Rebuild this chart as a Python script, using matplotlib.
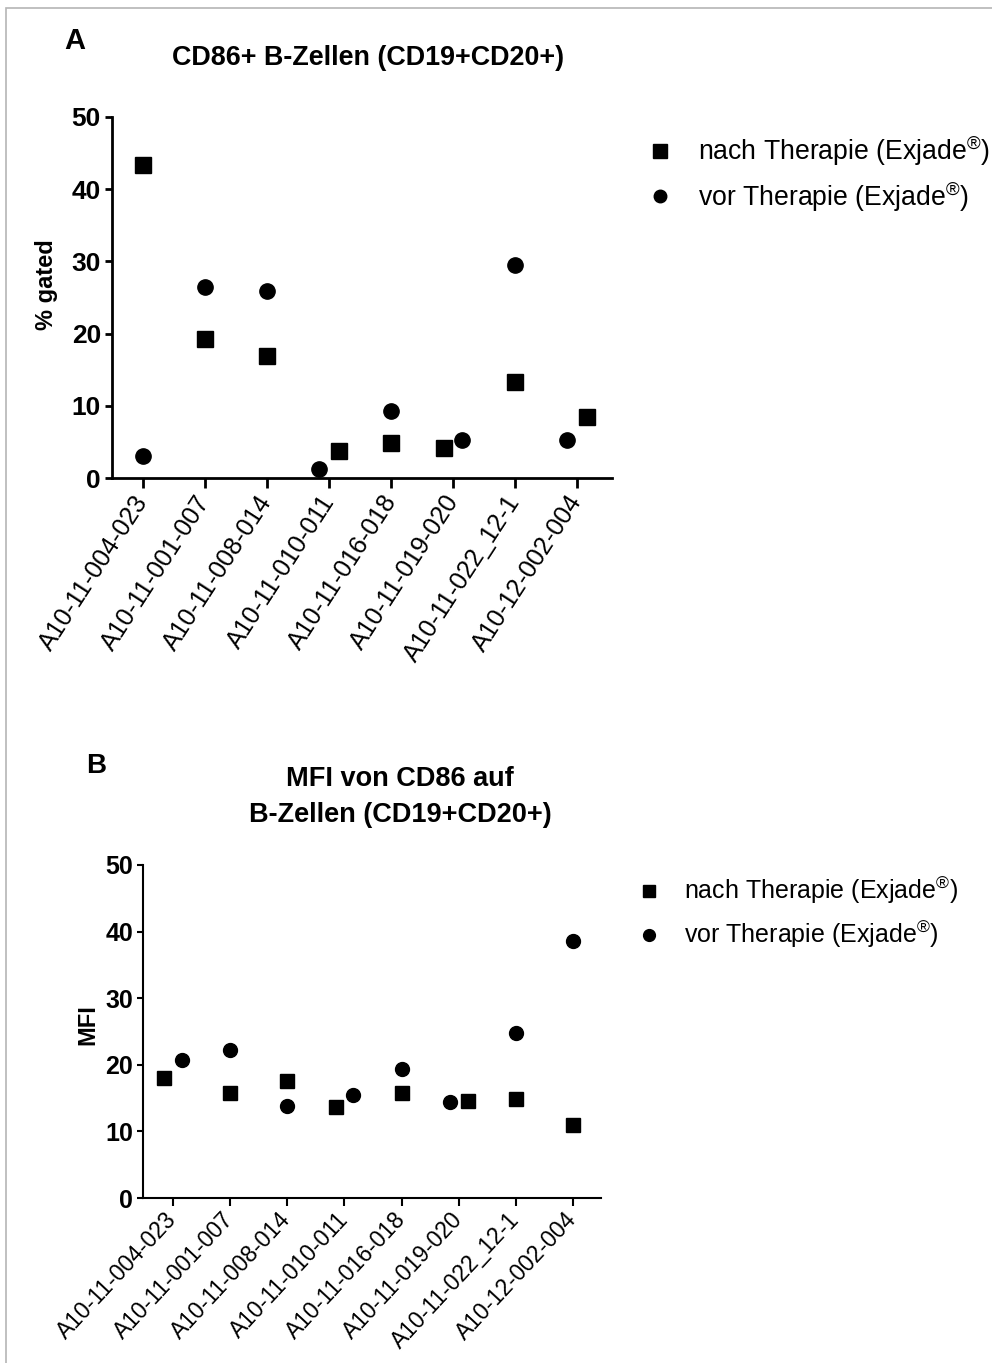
import numpy as np
import matplotlib
matplotlib.use("Agg")
import matplotlib.pyplot as plt
from matplotlib.lines import Line2D
from matplotlib.patches import Rectangle

plt.rcParams['font.family'] = ['Liberation Sans', 'DejaVu Sans']
plt.rcParams['mathtext.fontset'] = 'custom'
plt.rcParams['mathtext.rm'] = 'Liberation Sans'

patients = ["A10-11-004-023", "A10-11-001-007", "A10-11-008-014", "A10-11-010-011",
            "A10-11-016-018", "A10-11-019-020", "A10-11-022_12-1", "A10-12-002-004"]

# Panel A: CD86+ B cells, % gated
gated_nach = [43.4, 19.3, 16.9, 3.8, 4.8, 4.1, 13.3, 8.4]
gated_vor = [3.0, 26.4, 25.9, 1.3, 9.3, 5.3, 29.5, 5.3]

# Panel B: MFI of CD86 on B cells
mfi_nach = [18.0, 15.8, 17.6, 13.6, 15.7, 14.6, 14.9, 11.0]
mfi_vor = [20.7, 22.2, 13.8, 15.4, 19.4, 14.4, 24.8, 38.6]

y_ticks = [0, 10, 20, 30, 40, 50]
series_labels = ["nach Therapie (Exjade$^{®}$)", "vor Therapie (Exjade$^{®}$)"]

# horizontal dodge so that coinciding symbols stay visible
dodge_a_nach = [0, 0, 0, 0.16, 0, -0.15, 0, 0.16]
dodge_a_vor = [0, 0, 0, -0.16, 0, 0.15, 0, -0.16]
dodge_b_nach = [-0.16, 0, 0, -0.14, 0, 0.16, 0, 0]
dodge_b_vor = [0.16, 0, 0, 0.15, 0, -0.16, 0, 0]

W, H = 992, 1363
fig = plt.figure(figsize=(W / 100, H / 100), dpi=100)


def px(x, y):
    return x / W, 1 - y / H


def draw_panel(ax, nach, vor, d_nach, d_vor, xlim, ms, lw, ytick_fs, xtick_fs, xrot,
               xt_len, yt_len, xpad):
    x = np.arange(len(patients))
    ax.plot(x + np.array(d_nach), nach, ls='none', marker='s', ms=ms, color='black',
            clip_on=False, zorder=3)
    ax.plot(x + np.array(d_vor), vor, ls='none', marker='o', ms=ms, color='black',
            clip_on=False, zorder=3)
    ax.set_xlim(*xlim)
    ax.set_ylim(0, 50)
    ax.set_yticks(y_ticks)
    ax.set_xticks(x)
    ax.set_xticklabels(patients, rotation=xrot, ha='right', va='center',
                       rotation_mode='anchor', fontsize=xtick_fs)
    for lab in ax.get_yticklabels():
        lab.set_fontweight('bold')
        lab.set_fontsize(ytick_fs)
    for s in ('top', 'right'):
        ax.spines[s].set_visible(False)
    for s in ('left', 'bottom'):
        ax.spines[s].set_linewidth(lw)
    ax.tick_params(axis='x', length=xt_len, width=lw, pad=xpad)
    ax.tick_params(axis='y', length=yt_len, width=lw, pad=3)
    ax.set_facecolor('none')


# ---- Panel A ----
l, t = px(112, 117)
r, b = px(612, 478)
axA = fig.add_axes([l, b, r - l, t - b])
draw_panel(axA, gated_nach, gated_vor, dodge_a_nach, dodge_a_vor, (-0.5, 7.56),
           ms=11, lw=2.0, ytick_fs=19, xtick_fs=18, xrot=57, xt_len=7, yt_len=5, xpad=7)

fig.text(*px(75, 41), "A", fontsize=21, fontweight='bold', ha='center', va='center')
fig.text(*px(368, 58), "CD86+ B-Zellen (CD19+CD20+)", fontsize=19.4, fontweight='bold',
         ha='center', va='center')
fig.text(*px(47, 285), "% gated", fontsize=17, fontweight='bold', rotation=90,
         ha='center', va='center')

handles = [Line2D([], [], ls='none', marker='s', ms=10, color='black'),
           Line2D([], [], ls='none', marker='o', ms=9, color='black')]
fig.legend(handles, series_labels, loc='upper left', bbox_to_anchor=px(647, 134),
           frameon=False, fontsize=19.2, handlelength=1.0, handletextpad=0.9,
           labelspacing=0.4, borderpad=0, borderaxespad=0)

# ---- Panel B ----
l, t = px(143, 865)
r, b = px(601, 1198)
axB = fig.add_axes([l, b, r - l, t - b])
draw_panel(axB, mfi_nach, mfi_vor, dodge_b_nach, dodge_b_vor, (-0.525, 7.49),
           ms=10, lw=1.5, ytick_fs=18, xtick_fs=16.5, xrot=47, xt_len=6, yt_len=4, xpad=7)

fig.text(*px(96, 766), "B", fontsize=20, fontweight='bold', ha='center', va='center')
fig.text(*px(400, 797), "MFI von CD86 auf\nB-Zellen (CD19+CD20+)", fontsize=19.5,
         fontweight='bold', ha='center', va='center', linespacing=1.45)
fig.text(*px(88, 1025), "MFI", fontsize=17, fontweight='bold', rotation=90,
         ha='center', va='center')

handles_b = [Line2D([], [], ls='none', marker='s', ms=8.5, color='black'),
             Line2D([], [], ls='none', marker='o', ms=8.5, color='black')]
fig.legend(handles_b, series_labels, loc='upper left', bbox_to_anchor=px(636, 875),
           frameon=False, fontsize=18, handlelength=1.0, handletextpad=0.9,
           labelspacing=0.5, borderpad=0, borderaxespad=0)

# thin grey frame around the figure
fig.add_artist(Rectangle(px(6, H + 10), 1.02, (H + 2) / H, transform=fig.transFigure,
                         fill=False, edgecolor='#b5b5b5', lw=1.2))

fig.savefig("out.png", dpi=100, facecolor='white')
